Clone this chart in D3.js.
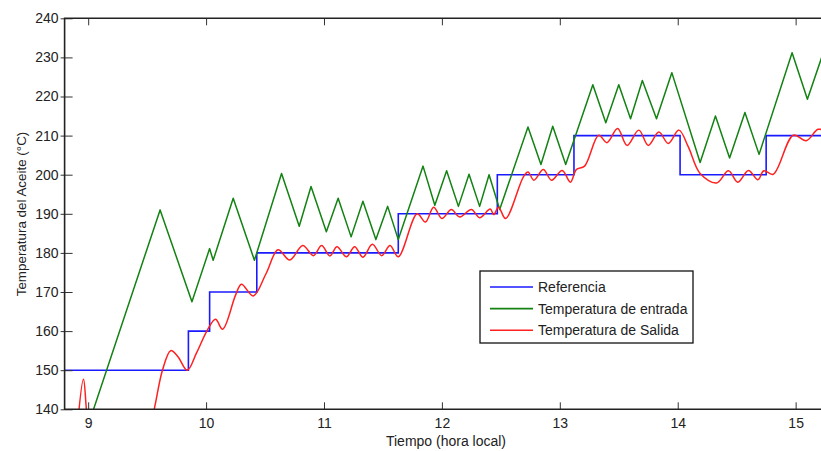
<!DOCTYPE html>
<html>
<head>
<meta charset="utf-8">
<script src="https://cdn.jsdelivr.net/npm/d3@7"></script>
<style>
  body { margin: 0; background: #fff; }
  text { font-family: "Liberation Sans", Arial, sans-serif; fill: #222; }
</style>
</head>
<body>
<svg class="chart"></svg>
<script>
let width = 821,
  height = 451;

// Referencia (step changes)
const refTime = [8.8, 9.85, 10.03, 10.43, 11.63, 12.47, 13.12, 14.02, 14.75, 15.3];
const refTemp = [150, 160, 170, 180, 190, 200, 210, 200, 210, 210];

// Temperatura de entrada
const inTime = [9.02, 9.61, 9.88, 10.03, 10.06, 10.23, 10.41, 10.64, 10.79, 10.89, 11.02, 11.12, 11.23, 11.33, 11.44,
  11.54, 11.63, 11.84, 11.94, 12.04, 12.14, 12.23, 12.32, 12.40, 12.49, 12.73, 12.84, 12.94, 13.05, 13.28, 13.39,
  13.50, 13.60, 13.70, 13.82, 13.95, 14.19, 14.32, 14.44, 14.57, 14.69, 14.97, 15.10, 15.25];
const inTemp = [137.7, 191, 167.5, 181.1, 178.1, 194.0, 178.1, 200.3, 186.8, 197.0, 185.4, 194.0, 184.1, 193.2, 183.4,
  191.9, 183.4, 202.2, 192.2, 201.0, 191.9, 200.1, 191.9, 200.0, 191.1, 212.2, 202.6, 212.4, 202.6, 223.0, 213.3,
  223.0, 214.3, 224.1, 214.3, 226.1, 203.1, 215.0, 204.3, 215.9, 205.2, 231.2, 219.3, 232.6];

// Temperatura de Salida
const outTime = [8.91, 8.96, 9.00, 9.10, 9.44, 9.56, 9.63, 9.70, 9.76, 9.84, 9.92, 10.01, 10.08, 10.14, 10.25, 10.30,
  10.40, 10.51, 10.61, 10.71, 10.82, 10.91, 10.98, 11.05, 11.11, 11.19, 11.26, 11.33, 11.41, 11.49, 11.56, 11.63,
  11.79, 11.86, 11.93, 12.00, 12.08, 12.15, 12.25, 12.32, 12.41, 12.44, 12.48, 12.54, 12.69, 12.73, 12.78, 12.86,
  12.93, 13.02, 13.09, 13.14, 13.21, 13.33, 13.40, 13.49, 13.57, 13.67, 13.75, 13.84, 13.92, 14.01, 14.09, 14.19,
  14.33, 14.43, 14.51, 14.60, 14.68, 14.73, 14.81, 14.98, 15.09, 15.19, 15.25];
const outTemp = [136, 147.7, 136, 125, 125, 140, 150, 155.0, 153.5, 150, 154.5, 160.2, 163.0, 160.5, 169.2, 172.0,
  169.0, 174.8, 180.8, 178.2, 181.9, 179.3, 181.9, 179.2, 181.6, 179.0, 181.6, 178.9, 182.2, 179.3, 181.9, 179.0,
  190.0, 187.9, 191.7, 188.8, 191.1, 189.2, 191.1, 189.0, 191.2, 189.8, 191.7, 188.8, 199.4, 200.7, 198.6, 201.3,
  198.6, 201.1, 198.1, 201.3, 202.2, 210.1, 208.2, 211.8, 207.5, 211.4, 207.5, 210.9, 208.0, 211.4, 207.1, 200.3,
  197.9, 201.0, 198.1, 201.1, 198.7, 201.0, 200.1, 210.1, 208.7, 211.6, 211.2];

const xTicks = [9, 10, 11, 12, 13, 14, 15];
const yTicks = [140, 150, 160, 170, 180, 190, 200, 210, 220, 230, 240];
const legendLabels = ["Referencia", "Temperatura de entrada", "Temperatura de Salida"];
const colors = ["#1a1aff", "#128212", "#ff2020"];

let svg = d3.select(".chart").attr("width", width).attr("height", height);

let x = d3.scaleLinear().domain([8.8, 15.3]).range([64.6, 831]);
let y = d3.scaleLinear().domain([140, 240]).range([409.3, 18.3]);

svg.append("defs").append("clipPath").attr("id", "plot")
  .append("rect")
  .attr("x", x(8.8)).attr("y", y(240))
  .attr("width", x(15.3) - x(8.8)).attr("height", y(140) - y(240));

// lines
let zip = (t, v) => t.map((d, i) => [d, v[i]]);
let plot = svg.append("g").attr("clip-path", "url(#plot)");

plot.append("path")
  .datum(zip(refTime, refTemp))
  .attr("fill", "none").attr("stroke", colors[0]).attr("stroke-width", 1.6)
  .attr("d", d3.line().x(d => x(d[0])).y(d => y(d[1])).curve(d3.curveStepAfter));

plot.append("path")
  .datum(zip(inTime, inTemp))
  .attr("fill", "none").attr("stroke", colors[1]).attr("stroke-width", 1.5)
  .attr("stroke-linejoin", "round")
  .attr("d", d3.line().x(d => x(d[0])).y(d => y(d[1])));

plot.append("path")
  .datum(zip(outTime, outTemp))
  .attr("fill", "none").attr("stroke", colors[2]).attr("stroke-width", 1.5)
  .attr("d", d3.line().x(d => x(d[0])).y(d => y(d[1])).curve(d3.curveCatmullRom.alpha(0.5)));

// axes (inward ticks, matlab style)
let xAxisBottom = svg.append("g").attr("transform", `translate(0,${y(140)})`)
  .call(d3.axisBottom(x).tickValues(xTicks).tickSize(-7).tickPadding(9).tickFormat(d3.format("d")));
let xAxisTop = svg.append("g").attr("transform", `translate(0,${y(240)})`)
  .call(d3.axisTop(x).tickValues(xTicks).tickSize(-7).tickFormat(""));
let yAxis = svg.append("g").attr("transform", `translate(${x(8.8)},0)`)
  .call(d3.axisLeft(y).tickValues(yTicks).tickSize(-8).tickPadding(6));

[xAxisBottom, xAxisTop, yAxis].forEach(g => {
  g.select(".domain").remove();
  g.selectAll(".tick line").attr("stroke", "#333");
  g.selectAll("text").style("font-size", "14px").attr("fill", "#222");
});
// little outward stubs on y ticks
yAxis.selectAll(".tick").append("line").attr("x1", -4).attr("x2", 0).attr("stroke", "#333");

// frame
svg.append("path")
  .attr("d", `M${x(15.3)},${y(240)}H${x(8.8)}V${y(140)}H${x(15.3)}`)
  .attr("fill", "none").attr("stroke", "#222").attr("stroke-width", 1.6);

// axis titles
svg.append("text")
  .attr("x", 446).attr("y", 446)
  .attr("text-anchor", "middle")
  .style("font-size", "14px")
  .text("Tiempo (hora local)");

svg.append("text")
  .attr("transform", "translate(26,214) rotate(-90)")
  .attr("text-anchor", "middle")
  .style("font-size", "13.4px")
  .text("Temperatura del Aceite (°C)");

// legend
let legend = svg.append("g").attr("transform", "translate(480,271)");
legend.append("rect")
  .attr("width", 213).attr("height", 72)
  .attr("fill", "#fff").attr("stroke", "#111").attr("stroke-width", 1.3);

legendLabels.forEach((label, i) => {
  let ly = 16 + i * 21.6;
  legend.append("line")
    .attr("x1", 10).attr("x2", 53).attr("y1", ly).attr("y2", ly)
    .attr("stroke", colors[i]).attr("stroke-width", 1.6);
  legend.append("text")
    .attr("x", 58).attr("y", ly + 5)
    .style("font-size", "14px")
    .text(label);
});
</script>
</body>
</html>
